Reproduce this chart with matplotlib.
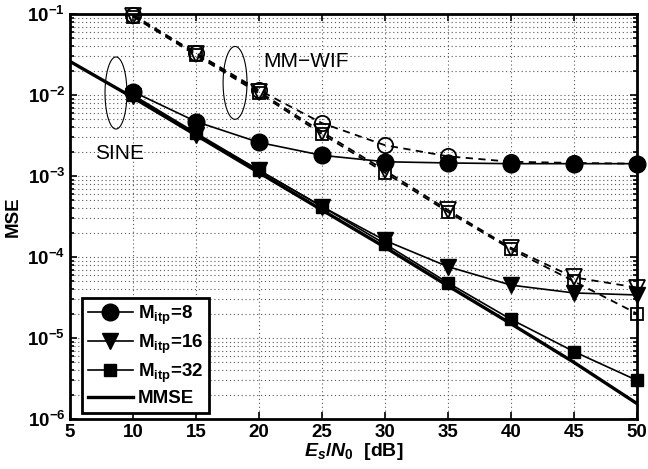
import numpy as np
import matplotlib
matplotlib.use("Agg")
import matplotlib.pyplot as plt
from matplotlib.ticker import FuncFormatter

plt.rcParams['font.family'] = ['Liberation Sans', 'DejaVu Sans']
plt.rcParams['font.weight'] = 'bold'
plt.rcParams['axes.labelweight'] = 'bold'
plt.rcParams['mathtext.fontset'] = 'custom'
plt.rcParams['mathtext.rm'] = 'Liberation Sans:bold'
plt.rcParams['mathtext.bf'] = 'Liberation Sans:bold'
plt.rcParams['mathtext.it'] = 'Liberation Sans:bold:italic'

######## DATA
snr = [5, 10, 15, 20, 25, 30, 35, 40, 45, 50]
snr_pts = [10, 15, 20, 25, 30, 35, 40, 45, 50]

mmse = [2.6e-2, 9.3e-3, 3.2e-3, 1.1e-3, 3.8e-4, 1.32e-4, 4.4e-5, 1.5e-5, 5.0e-6, 1.55e-6]

# SINE (solid, filled markers)
sine_m8 = [1.1e-2, 4.7e-3, 2.6e-3, 1.8e-3, 1.5e-3, 1.45e-3, 1.42e-3, 1.42e-3, 1.42e-3]
sine_m16 = [9.6e-3, 3.2e-3, 1.18e-3, 4.2e-4, 1.6e-4, 7.6e-5, 4.5e-5, 3.6e-5, 3.4e-5]
sine_m32 = [1.0e-2, 3.4e-3, 1.18e-3, 4.2e-4, 1.45e-4, 4.8e-5, 1.7e-5, 6.8e-6, 3.0e-6]

# MM-WIF (dashed, open markers)
wif_m8 = [9.8e-2, 3.3e-2, 1.15e-2, 4.5e-3, 2.4e-3, 1.75e-3, 1.5e-3, 1.45e-3, 1.42e-3]
wif_m16 = [9.5e-2, 3.2e-2, 1.1e-2, 3.5e-3, 1.17e-3, 3.8e-4, 1.3e-4, 5.6e-5, 4.2e-5]
wif_m32 = [9.3e-2, 3.1e-2, 1.05e-2, 3.3e-3, 1.1e-3, 3.6e-4, 1.25e-4, 5.0e-5, 2.0e-5]

labels = [r'M$_{\rm itp}$=8', r'M$_{\rm itp}$=16', r'M$_{\rm itp}$=32', 'MMSE']
xticks = [5, 10, 15, 20, 25, 30, 35, 40, 45, 50]

######## PLOT
fig = plt.figure(figsize=[6.48, 4.69], dpi=100)
ax = fig.add_axes([0.108, 0.1066, 0.875, 0.8635])

ax.semilogy(snr, mmse, '-', color='k', lw=2.4, zorder=3)

dash = (0, (4, 3))
for vals, mk, ms in [(wif_m32, 's', 9), (wif_m16, 'v', 11), (wif_m8, 'o', 11)]:
    ax.semilogy(snr_pts, vals, linestyle=dash, color='k', lw=1.3, zorder=2)
    ax.semilogy(snr_pts, vals, linestyle='none', marker=mk, ms=ms,
                mfc='none', mec='k', mew=1.3, zorder=2, clip_on=False)

h8, = ax.semilogy(snr_pts, sine_m8, '-', color='k', lw=1.2, marker='o', ms=12, zorder=4)
h16, = ax.semilogy(snr_pts, sine_m16, '-', color='k', lw=1.2, marker='v', ms=12, zorder=4)
h32, = ax.semilogy(snr_pts, sine_m32, '-', color='k', lw=1.2, marker='s', ms=9, zorder=4)
for h in (h8, h16, h32):
    h.set_clip_on(False)
hm, = ax.plot([], [], '-', color='k', lw=2.4)

# ellipses grouping the curves
t = np.linspace(0, 2 * np.pi, 200)
for cx, a, cy, b in [(8.65, 0.87, -1.975, 0.445), (18.1, 0.95, -1.85, 0.45)]:
    ax.plot(cx + a * np.cos(t), 10 ** (cy + b * np.sin(t)), color='k', lw=0.8, zorder=5)

ax.text(20.3, 10 ** -1.59, 'MM\u2212WIF', fontsize=15, fontweight='normal', va='center', ha='left')
ax.text(7.0, 10 ** -2.72, 'SINE', fontsize=15, fontweight='normal', va='center', ha='left')

ax.set_xlim(5, 50)
ax.set_ylim(1e-6, 1e-1)
ax.set_xticks(xticks)
ax.set_xticklabels([str(v) for v in xticks], fontweight='bold')
ax.yaxis.set_major_formatter(FuncFormatter(lambda v, p: r'$10^{%d}$' % int(round(np.log10(v)))))

ax.grid(True, which='major', axis='x', linestyle=(0, (1, 2.5)), color='0.35', lw=0.8)
ax.grid(True, which='both', axis='y', linestyle=(0, (1, 2.5)), color='0.35', lw=0.8)

ax.tick_params(which='both', direction='in', top=True, right=True, labelsize=13.5, width=1.2)
ax.tick_params(which='major', length=5)
ax.tick_params(which='minor', length=3)
for sp in ax.spines.values():
    sp.set_linewidth(2)

ax.set_xlabel(r'$E_s/N_0$  [dB]', fontsize=14, labelpad=0)
ax.set_ylabel('MSE', fontsize=13.5, labelpad=4)

leg = ax.legend([h8, h16, h32, hm], labels, loc='lower left', bbox_to_anchor=(0.021, 0.015),
                borderaxespad=0, fontsize=13.5, fancybox=False, framealpha=1,
                handlelength=2.4, handletextpad=0.3, labelspacing=0.3, borderpad=0.3)
leg.get_frame().set_edgecolor('k')
leg.get_frame().set_linewidth(2)
leg.set_zorder(10)

fig.savefig("out.png", dpi=100)
